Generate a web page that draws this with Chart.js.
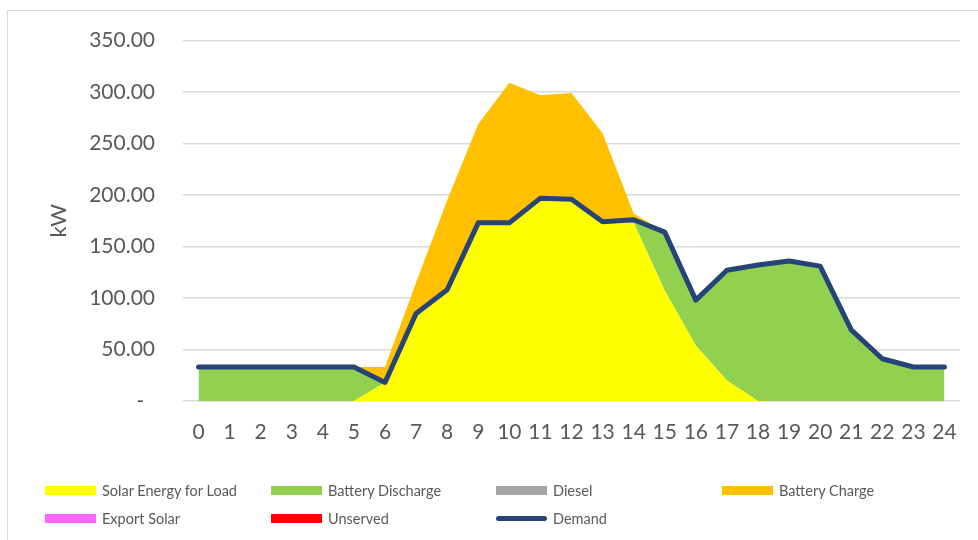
<!DOCTYPE html>
<html>
<head>
<meta charset="utf-8">
<script src="https://cdn.jsdelivr.net/npm/chart.js@4.4.1/dist/chart.umd.min.js"></script>
<style>
  body { margin: 0; background: #fff; }
  #wrap { position: relative; width: 978px; height: 540px; overflow: hidden; background: #fff; }
  #frame { position: absolute; left: 7px; top: 10px; right: -2px; bottom: -2px; border-left: 1.5px solid #d9d9d9; border-top: 1.5px solid #d9d9d9; }
  canvas { position: absolute; left: 0; top: 0; }
  .lg { position: absolute; display: flex; align-items: center; font-family: Lato, sans-serif; font-size: 14.5px; color: #595959; white-space: nowrap; }
  .sw { width: 51px; height: 9px; margin-right: 6px; }
  .ln { width: 51px; height: 5px; border-radius: 3px; margin-right: 6px; }
</style>
</head>
<body>
<div id="wrap">
  <div id="frame"></div>
  <canvas id="energyChart" width="978" height="540"></canvas>
  <div id="legend"></div>
</div>
<script>
var hours = ['0','1','2','3','4','5','6','7','8','9','10','11','12','13','14','15','16','17','18','19','20','21','22','23','24'];

// kW per hour
var solarForLoad     = [0, 0, 0, 0, 0, 0, 18, 85, 108, 173, 173, 197, 196, 174, 173, 107, 54, 20, 0, 0, 0, 0, 0, 0, 0];
var batteryDischarge = [33, 33, 33, 33, 33, 33, 0, 0, 0, 0, 0, 0, 0, 0, 3, 57, 44, 107, 132, 136, 131, 69, 41, 33, 33];
var diesel           = [0, 0, 0, 0, 0, 0, 0, 0, 0, 0, 0, 0, 0, 0, 0, 0, 0, 0, 0, 0, 0, 0, 0, 0, 0];
var batteryCharge    = [0, 0, 0, 0, 0, 0, 15, 30, 87, 96, 136, 100, 103, 86, 6, 0, 0, 0, 0, 0, 0, 0, 0, 0, 0];
var exportSolar      = [0, 0, 0, 0, 0, 0, 0, 0, 0, 0, 0, 0, 0, 0, 0, 0, 0, 0, 0, 0, 0, 0, 0, 0, 0];
var unserved         = [0, 0, 0, 0, 0, 0, 0, 0, 0, 0, 0, 0, 0, 0, 0, 0, 0, 0, 0, 0, 0, 0, 0, 0, 0];
var demand           = [33, 33, 33, 33, 33, 33, 18, 85, 108, 173, 173, 197, 196, 174, 176, 164, 98, 127, 132, 136, 131, 69, 41, 33, 33];

var yTicks = [0, 50, 100, 150, 200, 250, 300, 350];

function area(label, data, color, first) {
    return {
        label: label,
        data: data,
        backgroundColor: color,
        borderColor: color,
        borderWidth: 0,
        pointRadius: 0,
        tension: 0,
        fill: first ? 'origin' : '-1',
        stack: 'energy',
        order: 1
    };
}

var datasets = [
    area('Solar Energy for Load', solarForLoad, '#FFFF00', true),
    area('Battery Discharge', batteryDischarge, '#92D050'),
    area('Diesel', diesel, '#A5A5A5'),
    area('Battery Charge', batteryCharge, '#FFC000'),
    area('Export Solar', exportSolar, '#FF66FF'),
    area('Unserved', unserved, '#FF0000'),
    {
        label: 'Demand',
        data: demand,
        borderColor: '#264478',
        backgroundColor: '#264478',
        borderWidth: 5,
        borderCapStyle: 'round',
        borderJoinStyle: 'round',
        pointRadius: 0,
        tension: 0,
        fill: false,
        stack: 'demand',
        order: 0
    }
];

var ctx = document.getElementById('energyChart').getContext('2d');
var chart = new Chart(ctx, {
    type: 'line',
    data: { labels: hours, datasets: datasets },
    options: {
        responsive: false,
        animation: false,
        devicePixelRatio: 1,
        layout: { padding: { left: 0, top: 39, right: 18, bottom: 89 } },
        plugins: {
            legend: { display: false },
            tooltip: { enabled: false }
        },
        scales: {
            x: {
                offset: true,
                grid: { display: false, drawTicks: false },
                border: { display: false },
                ticks: {
                    color: '#595959',
                    font: { family: 'Lato', size: 21 },
                    padding: 19,
                    maxRotation: 0,
                    autoSkip: false
                },
                afterFit: function (scale) { scale.height = 50; }
            },
            y: {
                stacked: true,
                min: 0,
                max: 350,
                afterBuildTicks: function (scale) {
                    scale.ticks = yTicks.map(function (v) { return { value: v }; });
                },
                grid: { color: '#d9d9d9', lineWidth: 1.5, drawTicks: false },
                border: { display: false },
                ticks: {
                    color: '#595959',
                    font: { family: 'Lato', size: 21 },
                    padding: 28,
                    callback: function (v) { return v === 0 ? '-  ' : v.toFixed(2); }
                },
                title: {
                    display: true,
                    text: 'kW',
                    color: '#595959',
                    font: { family: 'Lato', size: 22 },
                    padding: { top: 46, bottom: 0 }
                },
                afterFit: function (scale) { scale.width = 183; }
            }
        }
    }
});

// legend laid out in four columns like the original
var legendCols = [45, 271, 496, 722];
var legendRows = [490, 518];
var legendEl = document.getElementById('legend');
chart.data.datasets.forEach(function (ds, i) {
    var item = document.createElement('div');
    item.className = 'lg';
    item.style.left = legendCols[i % 4] + 'px';
    item.style.top = (legendRows[Math.floor(i / 4)] - 9) + 'px';
    item.style.height = '18px';
    var sw = document.createElement('span');
    sw.className = ds.stack === 'demand' ? 'ln' : 'sw';
    sw.style.background = ds.stack === 'demand' ? ds.borderColor : ds.backgroundColor;
    item.appendChild(sw);
    var txt = document.createElement('span');
    txt.textContent = ds.label;
    item.appendChild(txt);
    legendEl.appendChild(item);
});
</script>
</body>
</html>
